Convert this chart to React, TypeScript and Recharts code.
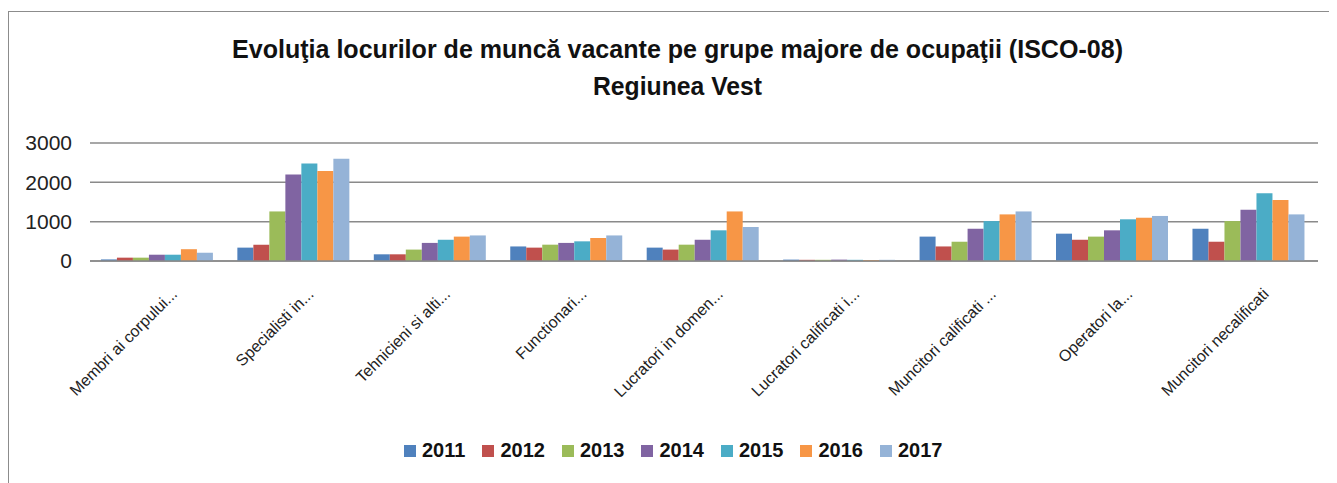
import { Bar, BarChart, CartesianGrid, Legend, XAxis, YAxis } from "recharts";

const categories = [
  "Membri ai corpului...",
  "Specialisti in...",
  "Tehnicieni si alti...",
  "Functionari...",
  "Lucratori in domen...",
  "Lucratori calificati i...",
  "Muncitori calificati ...",
  "Operatori la...",
  "Muncitori necalificati",
];

const years = ["2011", "2012", "2013", "2014", "2015", "2016", "2017"];

const v2011 = [40, 340, 170, 370, 340, 35, 620, 695, 820];
const v2012 = [85, 415, 170, 340, 290, 30, 370, 540, 490];
const v2013 = [85, 1260, 290, 415, 415, 30, 490, 620, 1015];
const v2014 = [160, 2200, 460, 460, 540, 35, 820, 780, 1300];
const v2015 = [160, 2480, 540, 500, 780, 30, 1015, 1060, 1720];
const v2016 = [300, 2290, 620, 585, 1260, 25, 1185, 1100, 1550];
const v2017 = [210, 2600, 650, 650, 865, 30, 1260, 1145, 1185];

const yTicks = [0, 1000, 2000, 3000];

const colors = ["#4F81BD", "#C0504D", "#9BBB59", "#8064A2", "#4BACC6", "#F79646", "#95B3D7"];

const series = [v2011, v2012, v2013, v2014, v2015, v2016, v2017];

const data = categories.map((name, i) => {
  const row: Record<string, string | number> = { name };
  years.forEach((y, k) => {
    row[y] = series[k][i];
  });
  return row;
});

const font = "'Liberation Sans', Arial, sans-serif";

function CategoryTick(props: any) {
  const { x, y, payload } = props;
  const ax = x + 20;
  const ay = y + 34;
  return (
    <text
      x={ax}
      y={ay}
      textAnchor="end"
      fontSize={16}
      fontFamily={font}
      fill="#222"
      transform={`rotate(-45, ${ax}, ${ay})`}
    >
      {payload.value}
    </text>
  );
}

function YearLegend() {
  return (
    <div style={{ display: "flex", alignItems: "center", fontFamily: font }}>
      {years.map((y, k) => (
        <div key={y} style={{ display: "flex", alignItems: "center", marginRight: 17 }}>
          <span style={{ width: 12, height: 12, background: colors[k], marginRight: 6 }} />
          <span style={{ fontSize: 20, fontWeight: "bold", color: "#111" }}>{y}</span>
        </div>
      ))}
    </div>
  );
}

export default function App() {
  return (
    <div style={{ position: "relative", width: 1329, height: 475 }}>
      <style>{`html, body { overflow: hidden; }`}</style>
      <div
        style={{
          position: "absolute",
          left: 0,
          top: 3,
          right: 0,
          bottom: 0,
          borderTop: "1px solid #8c8c8c",
          borderLeft: "1px solid #8c8c8c",
        }}
      />
      <svg
        width={1329}
        height={110}
        style={{ position: "absolute", left: 0, top: 0, pointerEvents: "none" }}
      >
        <text
          x={669.5}
          y={50}
          textAnchor="middle"
          fontFamily={font}
          fontWeight="bold"
          fontSize={26}
          fill="#111"
          textLength={891}
          lengthAdjust="spacingAndGlyphs"
        >
          Evoluţia locurilor de muncă vacante pe grupe majore de ocupaţii (ISCO-08)
        </text>
        <text
          x={669.5}
          y={87}
          textAnchor="middle"
          fontFamily={font}
          fontWeight="bold"
          fontSize={26}
          fill="#111"
          textLength={169}
          lengthAdjust="spacingAndGlyphs"
        >
          Regiunea Vest
        </text>
      </svg>
      <BarChart
        width={1329}
        height={475}
        data={data}
        margin={{ top: 135, right: 19, left: 0, bottom: 122 }}
        barCategoryGap="8%"
        barGap={0}
        style={{ position: "absolute", left: 0, top: 0 }}
      >
        <CartesianGrid vertical={false} stroke="#8a8a8a" strokeWidth={1.5} />
        <XAxis
          dataKey="name"
          interval={0}
          height={100}
          tickLine={false}
          tickSize={0}
          tickMargin={0}
          axisLine={{ stroke: "#8a8a8a", strokeWidth: 1.5 }}
          tick={<CategoryTick />}
        />
        <YAxis
          width={82}
          domain={[0, 3000]}
          ticks={yTicks}
          axisLine={false}
          tickLine={false}
          tickSize={0}
          tickMargin={18}
          tick={{ fontSize: 21, fontFamily: font, fill: "#222" }}
        />
        <Legend
          verticalAlign="middle"
          layout="horizontal"
          content={<YearLegend />}
          wrapperStyle={{ top: 431, left: 396, width: "auto" }}
        />
        {years.map((y, k) => (
          <Bar key={y} dataKey={y} fill={colors[k]} isAnimationActive={false} />
        ))}
      </BarChart>
    </div>
  );
}
